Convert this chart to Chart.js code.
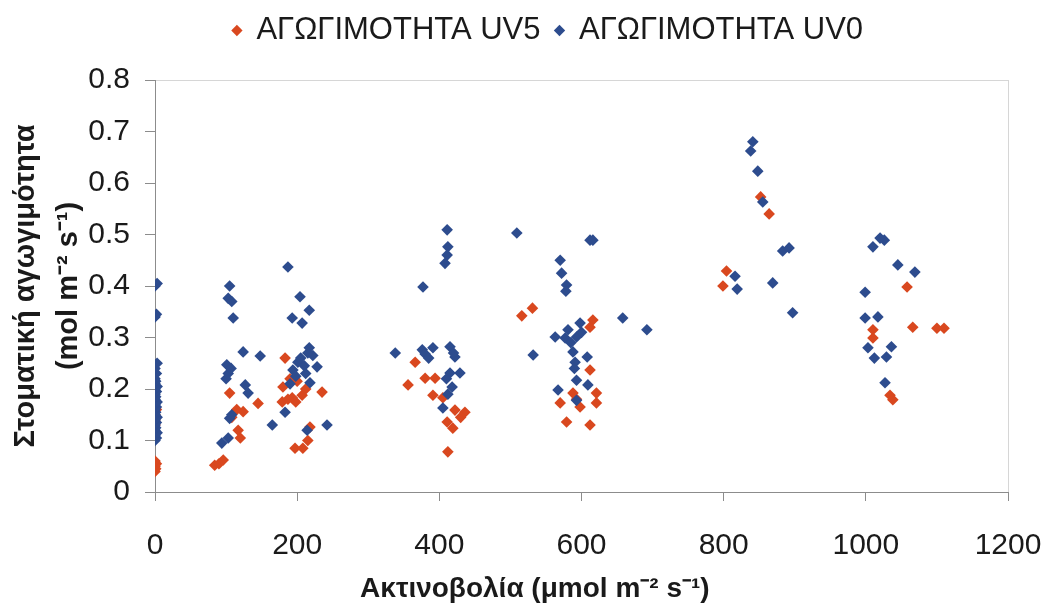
<!DOCTYPE html>
<html>
<head>
<meta charset="utf-8">
<script src="https://cdn.jsdelivr.net/npm/chart.js@4.4.1/dist/chart.umd.min.js"></script>
<style>
  html, body { margin: 0; padding: 0; background: #fff; }
  #wrap { width: 1044px; height: 606px; }
</style>
</head>
<body>
<div id="wrap"><canvas id="chart" width="1044" height="606"></canvas></div>
<script>
// x ticks, y ticks
const xTicks = [0, 200, 400, 600, 800, 1000, 1200];
const yTicks = [0, 0.1, 0.2, 0.3, 0.4, 0.5, 0.6, 0.7, 0.8];

const seriesNames = ["ΑΓΩΓΙΜΟΤΗΤΑ UV5", "ΑΓΩΓΙΜΟΤΗΤΑ UV0"];

// UV5 (red) - radiation / conductance
const uv5X = [
  0, 1, 0, 2, 0, 0, 0, 0, 2,
  84, 90, 96, 105, 145, 115, 124, 117, 120, 108,
  183, 180, 235, 193, 179, 207, 218, 215, 197, 208, 200, 190, 212, 198, 187,
  366, 356, 380, 394, 391, 405, 411, 419, 412, 422, 436, 430,
  516, 531, 616, 612, 612, 621, 588, 570, 621, 598, 579, 612, 593,
  804, 799, 852, 864,
  1058, 1010, 1066, 1100, 1110, 1010, 1034, 1038
];
const uv5Y = [
  0.04, 0.045, 0.05, 0.055, 0.06, 0.13, 0.14, 0.15, 0.16,
  0.052, 0.055, 0.062, 0.192, 0.172, 0.16, 0.156, 0.12, 0.105, 0.145,
  0.26, 0.204, 0.194, 0.183, 0.175, 0.188, 0.126, 0.1, 0.085, 0.085, 0.215, 0.22, 0.2, 0.175, 0.18,
  0.252, 0.208, 0.221, 0.221, 0.188, 0.183, 0.136, 0.124, 0.078, 0.159, 0.155, 0.145,
  0.342, 0.357, 0.334, 0.32, 0.237, 0.192, 0.192, 0.173, 0.173, 0.165, 0.136, 0.13, 0.18,
  0.429, 0.40, 0.573, 0.54,
  0.398, 0.315, 0.32, 0.318, 0.318, 0.299, 0.188, 0.179
];

// UV0 (blue)
const uv0X = [
  0, 2, 0, 3, 0, 1, 0, 2, 0, 3, 0, 1, 0, 2, 0, 3, 0, 1, 0, 2, 0, 3, 0, 1, 0, 2, 0, 3,
  0, 2, 0, 3,
  105, 103, 108, 110, 124, 148, 101, 103, 127, 131, 105, 94, 103, 100, 107, 108,
  187, 204, 217, 193, 207, 217, 201, 194, 228, 218, 183, 165, 242, 214,
  205, 210, 198, 212, 190, 222, 215,
  411, 412, 411, 408, 377, 338, 376, 391, 415, 415, 418, 405, 422, 429, 380, 385, 420, 410, 412,
  509, 612, 616, 570, 572, 579, 578, 598, 581, 563, 577, 593, 658, 692,
  532, 588, 608, 591, 593, 609, 567, 593, 585, 600, 590,
  841, 838, 848, 855, 883, 892, 816, 819, 869, 897,
  1026, 1020, 1010, 1045, 1069, 999, 999, 1017, 1003, 1036, 1012, 1029, 1027
];
const uv0Y = [
  0.10, 0.105, 0.11, 0.115, 0.12, 0.125, 0.13, 0.135, 0.14, 0.145, 0.15, 0.155, 0.16, 0.165,
  0.17, 0.175, 0.18, 0.185, 0.19, 0.195, 0.20, 0.205, 0.21, 0.215, 0.22, 0.23, 0.24, 0.25,
  0.34, 0.345, 0.40, 0.405,
  0.40, 0.376, 0.37, 0.338, 0.272, 0.264, 0.247, 0.23, 0.208, 0.192, 0.143, 0.095, 0.105, 0.22, 0.24, 0.15,
  0.437, 0.379, 0.353, 0.338, 0.328, 0.28, 0.252, 0.237, 0.243, 0.212, 0.155, 0.13, 0.13, 0.12,
  0.26, 0.245, 0.225, 0.23, 0.21, 0.265, 0.27,
  0.509, 0.476, 0.46, 0.444, 0.398, 0.27, 0.276, 0.28, 0.282, 0.231, 0.204, 0.163, 0.262, 0.231, 0.268, 0.26, 0.27, 0.22, 0.19,
  0.503, 0.489, 0.489, 0.45, 0.425, 0.402, 0.39, 0.328, 0.315, 0.301, 0.299, 0.301, 0.338, 0.315,
  0.266, 0.272, 0.262, 0.252, 0.217, 0.208, 0.198, 0.178, 0.29, 0.31, 0.24,
  0.68, 0.662, 0.623, 0.563, 0.468, 0.474, 0.419, 0.394, 0.406, 0.348,
  0.489, 0.493, 0.476, 0.441, 0.427, 0.388, 0.338, 0.34, 0.28, 0.282, 0.26, 0.262, 0.212
];

const toPoints = (xs, ys) => xs.map((x, i) => ({ x: x, y: ys[i] }));

const FONT = "'Liberation Sans', Arial, sans-serif";
const textColor = "#1a1a1a";

// fix the legend height so the plot starts where the original does,
// and nudge the legend a bit to the right like in the original
const legendTweak = {
  id: "legendTweak",
  beforeInit(chart) {
    const fit = chart.legend.fit;
    chart.legend.fit = function () {
      fit.call(this);
      this.height = 80;
    };
  },
  afterLayout(chart) {
    chart.legend.left += 26;
    chart.legend.right += 26;
  }
};

new Chart(document.getElementById("chart"), {
  type: "scatter",
  data: {
    datasets: [
      {
        label: seriesNames[0],
        data: toPoints(uv5X, uv5Y),
        backgroundColor: "#d9481f",
        borderColor: "#d9481f",
        borderWidth: 0,
        pointStyle: "rectRot",
        pointRadius: 5.8,
        order: 2
      },
      {
        label: seriesNames[1],
        data: toPoints(uv0X, uv0Y),
        backgroundColor: "#2d4c8e",
        borderColor: "#2d4c8e",
        borderWidth: 0,
        pointStyle: "rectRot",
        pointRadius: 5.8,
        order: 1
      }
    ]
  },
  options: {
    responsive: false,
    animation: false,
    layout: { padding: 0 },
    plugins: {
      tooltip: { enabled: false },
      legend: {
        position: "top",
        labels: {
          usePointStyle: true,
          pointStyle: "rectRot",
          boxWidth: 8,
          boxHeight: 8,
          padding: 15,
          color: textColor,
          font: { family: FONT, size: 31 },
          sort: (a, b) => a.datasetIndex - b.datasetIndex
        }
      }
    },
    scales: {
      x: {
        type: "linear",
        min: 0,
        max: 1200,
        afterBuildTicks: (scale) => { scale.ticks = xTicks.map(v => ({ value: v })); },
        afterFit: (scale) => {
          scale.height = 114;
          scale.paddingLeft = 0;
          scale.paddingRight = 36;
        },
        border: { display: true, color: "#8c8c8c", width: 1 },
        grid: {
          drawOnChartArea: true,
          color: (ctx) => ctx.tick && ctx.tick.value === 1200 ? "#d6d6d6" : "rgba(0,0,0,0)",
          tickColor: "#8c8c8c",
          tickLength: 9
        },
        ticks: {
          color: textColor,
          padding: 27,
          font: { family: FONT, size: 30 },
          maxRotation: 0,
          callback: (v) => String(v)
        },
        title: {
          display: true,
          text: "Ακτινοβολία (μmol m⁻² s⁻¹)" + "\u00a0".repeat(12),
          color: textColor,
          font: { family: FONT, size: 28, weight: "bold" },
          padding: { top: 0, bottom: 0 }
        }
      },
      y: {
        type: "linear",
        min: 0,
        max: 0.8,
        afterBuildTicks: (scale) => { scale.ticks = yTicks.map(v => ({ value: v })); },
        afterFit: (scale) => { scale.width = 155; },
        border: { display: true, color: "#8c8c8c", width: 1 },
        grid: {
          drawOnChartArea: true,
          color: (ctx) => ctx.tick && ctx.tick.value === 0.8 ? "#d6d6d6" : "rgba(0,0,0,0)",
          tickColor: "#8c8c8c",
          tickLength: 10
        },
        ticks: {
          color: textColor,
          padding: 15,
          font: { family: FONT, size: 30 },
          callback: (v) => String(v)
        },
        title: {
          display: true,
          text: ["Στοματική αγωγιμότητα", "(mol m⁻² s⁻¹)"],
          color: textColor,
          font: { family: FONT, size: 29, weight: "bold", lineHeight: 1.5 },
          padding: { top: 4, bottom: 0 }
        }
      }
    }
  },
  plugins: [legendTweak]
});
</script>
</body>
</html>
